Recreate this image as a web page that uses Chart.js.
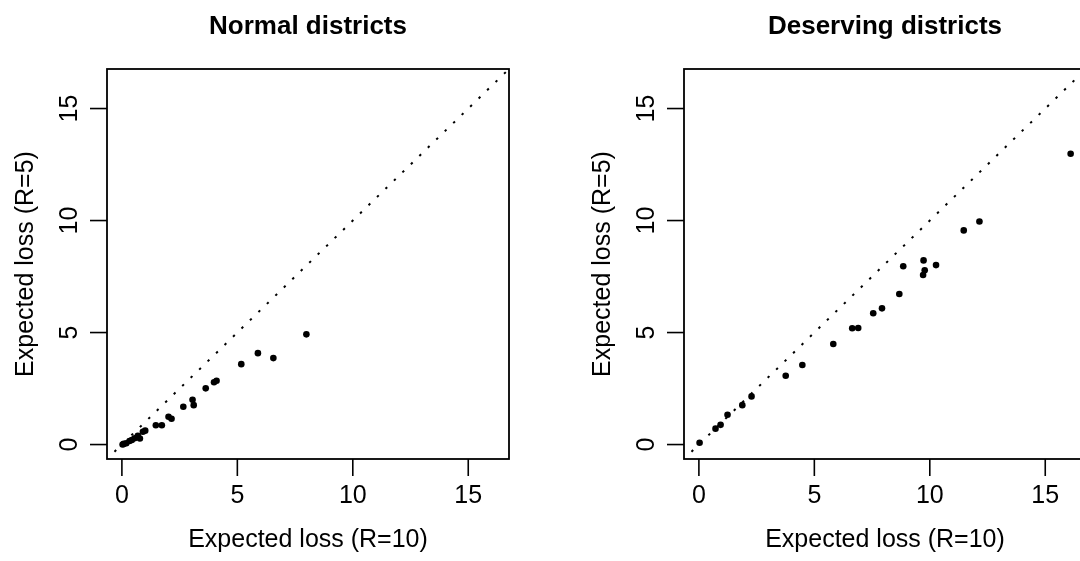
<!DOCTYPE html>
<html>
<head>
<meta charset="utf-8">
<script src="https://cdn.jsdelivr.net/npm/chart.js@4/dist/chart.umd.min.js"></script>
<style>
  html, body { margin: 0; padding: 0; background: #fff; }
  #wrap { position: relative; width: 1080px; height: 561px; overflow: hidden; }
  .panel { position: absolute; top: 0; width: 577px; height: 561px; }
</style>
</head>
<body>
<div id="wrap">
  <div class="panel" style="left:0"><canvas id="normalChart" width="577" height="561"></canvas></div>
  <div class="panel" style="left:577px"><canvas id="deservingChart" width="577" height="561"></canvas></div>
</div>
<script>
// Expected loss per district, R=10 (x) against R=5 (y)
const normalR10 = [7.99, 5.89, 6.56, 5.17, 4.10, 3.99, 3.63, 3.06, 3.11, 2.66, 2.15, 2.02,
                   1.73, 1.47, 1.01, 0.91, 0.78, 0.69, 0.55, 0.43, 0.33, 0.19, 0.08, 0.03];
const normalR5  = [4.92, 4.08, 3.86, 3.59, 2.85, 2.78, 2.51, 2.00, 1.76, 1.69, 1.15, 1.24,
                   0.86, 0.86, 0.62, 0.57, 0.27, 0.39, 0.28, 0.20, 0.16, 0.06, 0.03, 0.00];

const deservingR10 = [16.10, 12.15, 11.47, 9.73, 9.78, 9.71, 10.27, 8.85, 8.68, 7.93, 7.55,
                      6.90, 6.64, 5.82, 4.48, 3.76, 2.28, 1.88, 1.24, 0.94, 0.72, 0.03];
const deservingR5  = [12.98, 9.96, 9.56, 8.22, 7.78, 7.57, 8.01, 7.96, 6.72, 6.08, 5.86,
                      5.20, 5.19, 4.49, 3.55, 3.07, 2.15, 1.76, 1.33, 0.88, 0.71, 0.08];

const tickValues = [0, 5, 10, 15];
const xTitle = 'Expected loss (R=10)';
const yTitle = 'Expected loss (R=5)';

// both axes share the same limits, so y = x runs corner to corner
const axisMin = -0.645;
const axisMax = 16.765;

const FONT = '"Liberation Sans", Arial, Helvetica, sans-serif';

// base-graphics look: boxed panel, outward ticks, rotated y labels
const rAxes = {
  id: 'rAxes',
  afterDraw(chart, args, opts) {
    const ctx = chart.ctx;
    const {left, top, right, bottom} = chart.chartArea;
    const xs = chart.scales.x, ys = chart.scales.y;
    ctx.save();
    ctx.strokeStyle = '#000';
    ctx.fillStyle = '#000';
    ctx.lineWidth = 1.8;
    ctx.strokeRect(left, top, right - left, bottom - top);

    ctx.lineWidth = 1.6;
    ctx.font = '25px ' + FONT;
    ctx.textAlign = 'center';
    ctx.textBaseline = 'middle';
    xs.ticks.forEach(t => {
      const px = xs.getPixelForValue(t.value);
      ctx.beginPath();
      ctx.moveTo(px, bottom);
      ctx.lineTo(px, bottom + 17);
      ctx.stroke();
      ctx.fillText(String(t.value), px, bottom + 37);
    });
    ys.ticks.forEach(t => {
      const py = ys.getPixelForValue(t.value);
      ctx.beginPath();
      ctx.moveTo(left, py);
      ctx.lineTo(left - 17, py);
      ctx.stroke();
      ctx.save();
      ctx.translate(left - 37, py);
      ctx.rotate(-Math.PI / 2);
      ctx.fillText(String(t.value), 0, 0);
      ctx.restore();
    });

    ctx.fillText(xTitle, (left + right) / 2, bottom + 81);
    ctx.save();
    ctx.translate(left - 81, (top + bottom) / 2);
    ctx.rotate(-Math.PI / 2);
    ctx.fillText(yTitle, 0, 0);
    ctx.restore();

    ctx.font = 'bold 26px ' + FONT;
    ctx.fillText(opts.title, (left + right) / 2, 27);
    ctx.restore();
  }
};

function makePanel(id, title, xs, ys) {
  const points = xs.map((x, i) => ({x: x, y: ys[i]}));
  return new Chart(document.getElementById(id), {
    type: 'scatter',
    data: {
      datasets: [{
        data: points,
        pointRadius: 3.3,
        pointBorderWidth: 0,
        pointBackgroundColor: '#000',
        pointHoverRadius: 3.3
      }, {
        // y = x reference
        type: 'line',
        data: [{x: axisMin, y: axisMin}, {x: axisMax, y: axisMax}],
        borderColor: '#000',
        borderWidth: 2,
        borderDash: [2.4, 9.4],
        borderDashOffset: 1.4,
        pointRadius: 0,
        fill: false
      }]
    },
    options: {
      responsive: false,
      animation: false,
      events: [],
      layout: { padding: { left: 107, top: 69, right: 68, bottom: 102 } },
      scales: {
        x: {
          type: 'linear', display: false, min: axisMin, max: axisMax,
          afterBuildTicks: s => { s.ticks = tickValues.map(v => ({value: v})); }
        },
        y: {
          type: 'linear', display: false, min: axisMin, max: axisMax,
          afterBuildTicks: s => { s.ticks = tickValues.map(v => ({value: v})); }
        }
      },
      plugins: {
        legend: { display: false },
        tooltip: { enabled: false },
        rAxes: { title: title }
      }
    },
    plugins: [rAxes]
  });
}

makePanel('normalChart', 'Normal districts', normalR10, normalR5);
makePanel('deservingChart', 'Deserving districts', deservingR10, deservingR5);
</script>
</body>
</html>
